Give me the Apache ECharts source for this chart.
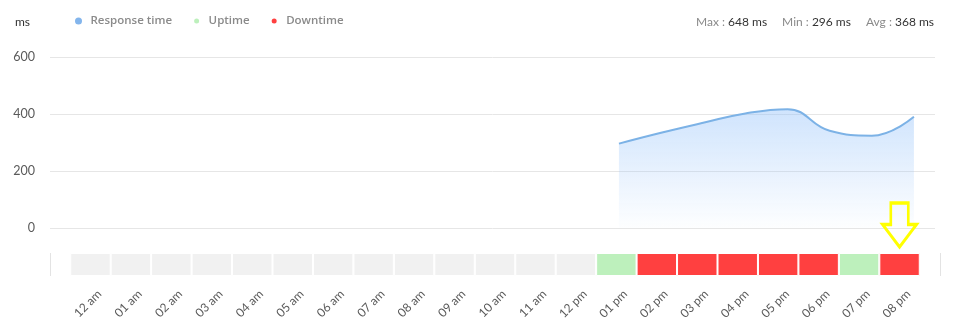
<!DOCTYPE html>
<html>
<head>
<meta charset="utf-8">
<script src="https://cdn.jsdelivr.net/npm/echarts@6/dist/echarts.min.js"></script>
<style>
html,body{margin:0;padding:0;background:#fff;}
#chart{width:956px;height:330px;}
</style>
</head>
<body>
<div id="chart"></div>
<script>
const hours = ['12 am','01 am','02 am','03 am','04 am','05 am','06 am','07 am','08 am','09 am','10 am','11 am','12 pm','01 pm','02 pm','03 pm','04 pm','05 pm','06 pm','07 pm','08 pm'];
const responseTime = [null,null,null,null,null,null,null,null,null,null,null,null,null,296,334,369,402,417,341,324,390];
const status = ['none','none','none','none','none','none','none','none','none','none','none','none','none','up','down','down','down','down','down','up','down'];
const yTicks = [0, 200, 400, 600];
const statMax = 648, statMin = 296, statAvg = 368;
const markedHour = '08 pm';

const FONT = 'Lato';
const LEGEND_FONT = 'Open Sans';
const stripCats = [''].concat(hours, ['']);
function statusData(s) {
  return [null].concat(status.map(v => v === s ? 1 : null), [null]);
}

const chart = echarts.init(document.getElementById('chart'), null, {renderer: 'canvas'});
chart.setOption({
  animation: false,
  textStyle: {fontFamily: FONT},
  title: [
    {text: 'ms', left: 10, top: 11, textStyle: {fontSize: 12, fontWeight: 'normal', color: '#333', fontFamily: FONT}},
    {
      text: '{l|Max : }{v|' + statMax + ' ms}{g|}{l|Min : }{v|' + statMin + ' ms}{g|}{l|Avg : }{v|' + statAvg + ' ms}',
      right: 17, top: 11,
      textStyle: {
        fontSize: 12, fontWeight: 'normal', fontFamily: FONT,
        rich: {
          l: {color: '#8a8a8a', fontSize: 12, fontWeight: 'normal', fontFamily: FONT},
          v: {color: '#333', fontSize: 12, fontWeight: 'normal', fontFamily: FONT},
          g: {width: 15}
        }
      }
    }
  ],
  legend: {
    data: ['Response time', 'Uptime', 'Downtime'],
    left: 70, top: 10,
    icon: 'circle', itemWidth: 14, itemHeight: 7, itemGap: 20,
    textStyle: {color: '#8a8a8a', fontSize: 11.5, fontWeight: 600, fontFamily: LEGEND_FONT}
  },
  grid: [
    {left: 50, right: 21, top: 57, height: 171},
    {left: 50, right: 16, top: 253, height: 23},
    {left: 59, right: 7, top: 253, height: 23}
  ],
  xAxis: [
    {type: 'category', gridIndex: 0, data: hours, boundaryGap: true, show: false},
    {
      type: 'category', gridIndex: 1, data: stripCats, boundaryGap: false,
      axisLine: {show: false}, axisTick: {show: false},
      splitLine: {show: true, lineStyle: {color: '#e3e3e3', width: 1}},
      axisLabel: {show: false}
    },
    {
      type: 'category', gridIndex: 2, data: stripCats, boundaryGap: false,
      axisLine: {show: false}, axisTick: {show: false}, splitLine: {show: false},
      axisLabel: {interval: 0, rotate: 45, color: '#5a5a5a', fontSize: 12, margin: 16, fontFamily: FONT}
    }
  ],
  yAxis: [
    {
      type: 'value', gridIndex: 0, min: yTicks[0], max: yTicks[yTicks.length - 1], interval: 200,
      axisLine: {show: false}, axisTick: {show: false},
      axisLabel: {color: '#5a5a5a', fontSize: 12.5, margin: 15, fontFamily: FONT},
      splitLine: {lineStyle: {color: '#e6e6e6'}}
    },
    {type: 'value', gridIndex: 1, min: 0, max: 1, show: false},
    {type: 'value', gridIndex: 2, min: 0, max: 1, show: false}
  ],
  series: [
    {
      name: 'Response time', type: 'line', xAxisIndex: 0, yAxisIndex: 0,
      data: responseTime, smooth: 0.45, showSymbol: false, symbol: 'none',
      color: '#83b5ec',
      lineStyle: {color: '#7cb2e6', width: 2},
      areaStyle: {
        color: new echarts.graphic.LinearGradient(0, 0, 0, 1, [
          {offset: 0, color: 'rgba(145,192,250,0.62)'},
          {offset: 1, color: 'rgba(145,192,250,0.02)'}
        ])
      }
    },
    {
      name: 'No data', type: 'bar', xAxisIndex: 1, yAxisIndex: 1,
      data: statusData('none'), barWidth: '100%', barGap: '-100%',
      itemStyle: {color: '#f1f1f1', borderColor: '#fff', borderWidth: 1}
    },
    {
      name: 'Uptime', type: 'bar', xAxisIndex: 1, yAxisIndex: 1,
      data: statusData('up'), barWidth: '100%', barGap: '-100%',
      color: '#bdf0bc',
      itemStyle: {color: '#bdf0bc', borderColor: '#fff', borderWidth: 1}
    },
    {
      name: 'Downtime', type: 'bar', xAxisIndex: 1, yAxisIndex: 1,
      data: statusData('down'), barWidth: '100%', barGap: '-100%',
      color: '#ff4040',
      itemStyle: {color: '#ff4040', borderColor: '#fff', borderWidth: 1},
      markPoint: {
        silent: true,
        symbol: 'path://M8.5 0 L26.5 0 L26.5 22 L35 22 L17.5 45 L0 22 L8.5 22 Z',
        symbolSize: [34, 44],
        symbolOffset: [0, -28],
        symbolKeepAspect: false,
        label: {show: false},
        itemStyle: {color: 'rgba(0,0,0,0)', borderColor: '#ffff00', borderWidth: 3},
        data: [{coord: [markedHour, 1]}]
      }
    }
  ]
});
</script>
</body>
</html>
